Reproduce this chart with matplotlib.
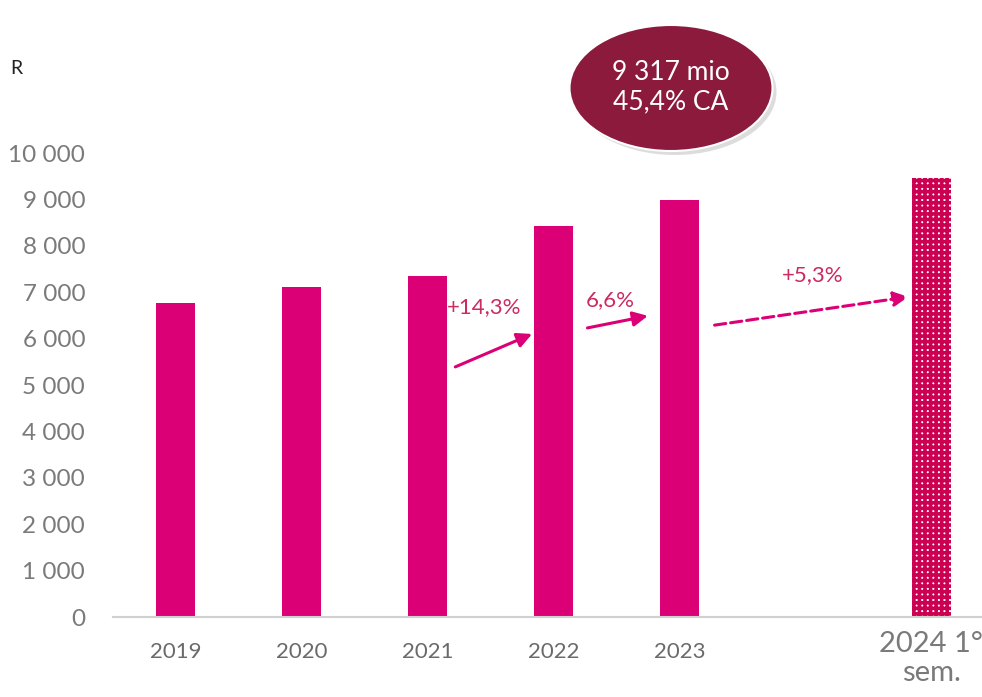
import numpy as np
import matplotlib.pyplot as plt
from matplotlib.patches import Ellipse

plt.rcParams['font.family'] = ['Lato', 'DejaVu Sans']
plt.rcParams['hatch.linewidth'] = 2.6

# data
years = ['2019', '2020', '2021', '2022', '2023', '2024 1°\nsem.']
values = [6770, 7110, 7350, 8430, 8990, 9460]
growth = ['+14,3%', '6,6%', '+5,3%']
yticks = [0, 1000, 2000, 3000, 4000, 5000, 6000, 7000, 8000, 9000, 10000]

pos = [0, 1, 2, 3, 4, 6]
bar_col = '#DB0075'
txt_col = '#CC2A60'
grey = '#7a7a7a'

fig = plt.figure(figsize=(9.82, 6.97), dpi=100)
ax = fig.add_axes([113/982, 80/697, (982-113)/982, 464/697])

ax.bar(pos[:5], values[:5], width=0.31, color=bar_col, linewidth=0)
ax.bar(pos[5], values[5], width=0.31, color='white', edgecolor='#CC0050',
       hatch='+++', linewidth=0)

ax.set_xlim(-0.5, 6.405)
ax.set_ylim(0, 10000)
ax.set_yticks(yticks)
ax.set_yticklabels([f'{v:,}'.replace(',', ' ') for v in yticks],
                   fontsize=17.5, color=grey)
ax.set_xticks(pos)
ax.set_xticklabels(years[:5] + [''], fontsize=16, color='#6a6a6a')
ax.text(6, -300, years[5], ha='center', va='top', fontsize=21, color=grey,
        linespacing=1.15)
ax.tick_params(length=0)
ax.tick_params(axis='x', pad=18)
ax.tick_params(axis='y', pad=20)
for s in ['top', 'right', 'left']:
    ax.spines[s].set_visible(False)
ax.spines['bottom'].set_color('#d0d0d0')
ax.spines['bottom'].set_linewidth(1.5)

# growth arrows
arrows = [((2.22, 5390), (2.83, 6100), '-'),
          ((3.27, 6230), (3.75, 6490), '-'),
          ((4.28, 6290), (5.82, 6900), '--')]
label_pos = [(2.45, 6680), (3.455, 6830), (5.06, 7370)]
for (start, end, ls), lab, lp in zip(arrows, growth, label_pos):
    ax.annotate('', xy=end, xytext=start,
                arrowprops=dict(arrowstyle='-|>', color=bar_col, lw=2.2,
                                linestyle=ls, mutation_scale=22,
                                shrinkA=0, shrinkB=0))
    ax.text(lp[0], lp[1], lab, ha='center', va='center', fontsize=16,
            color=txt_col)

# bubble
sh = Ellipse((675/982, 1 - 92/697), 203/982, 126/697, transform=fig.transFigure,
             facecolor='#bbbbbb', alpha=0.5, edgecolor='none')
fig.patches.append(sh)
el = Ellipse((671/982, 1 - 88/697), 203/982, 126/697, transform=fig.transFigure,
             facecolor='#8B1A3C', edgecolor='white', linewidth=1.5)
fig.patches.append(el)
fig.text(671/982, 1 - 87/697, '9 317 mio\n45,4% CA', ha='center', va='center',
         fontsize=19, color='white', linespacing=1.25)

fig.text(10/982, 1 - 68/697, 'R', fontsize=14, color='#222222', va='center')

fig.savefig('out.png', dpi=100)
